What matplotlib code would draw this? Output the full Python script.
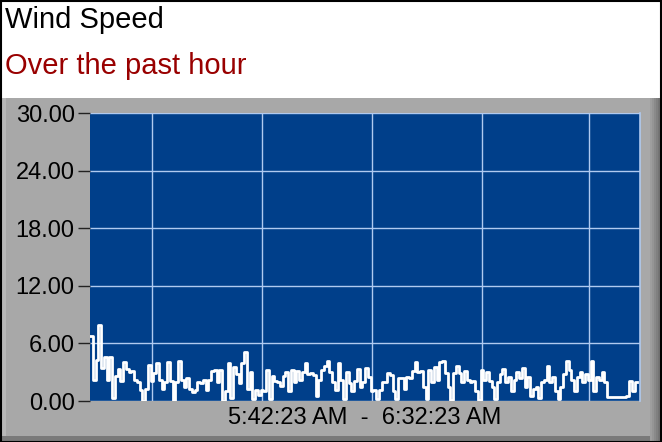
import matplotlib
matplotlib.use("Agg")
import matplotlib.pyplot as plt
from matplotlib.patches import Rectangle
from matplotlib.ticker import FixedLocator, FormatStrFormatter

title = "Wind Speed"
subtitle = "Over the past hour"
time_range_label = "5:42:23 AM  -  6:32:23 AM"
sample_interval_s = 15
y_ticks = [0, 6, 12, 18, 24, 30]
grid_x_seconds = [337, 937, 1537, 2137, 2720]

wind_speed = [
    6.8, 2.2, 4.3, 7.9, 3.4, 4.6, 2.2, 4.6, 0.3, 2.6,
    3.3, 2.1, 4.1, 3.3, 3.0, 3.1, 2.2, 2.0, 1.1, 0.0,
    1.3, 3.8, 2.1, 2.9, 4.0, 2.2, 1.2, 2.0, 4.1, 2.1,
    0.0, 2.0, 4.2, 2.2, 1.5, 2.4, 1.2, 0.9, 1.1, 2.0,
    1.9, 2.2, 1.1, 2.2, 3.1, 3.2, 2.0, 3.2, 0.0, 1.0,
    4.0, 0.3, 3.5, 2.8, 1.9, 4.0, 5.1, 1.2, 3.0, 0.2,
    1.1, 0.6, 1.1, 1.0, 3.2, 0.2, 2.6, 2.1, 2.0, 1.6,
    2.6, 3.0, 1.0, 3.2, 2.0, 3.1, 2.2, 3.0, 4.0, 2.8,
    2.9, 2.7, 0.5, 2.2, 3.2, 3.6, 4.2, 3.0, 2.0, 1.1,
    4.0, 2.2, 0.2, 3.0, 1.9, 1.0, 2.1, 3.3, 1.5, 2.0,
    3.4, 2.5, 1.0, 1.1, 0.2, 1.1, 2.0, 2.0, 2.9, 2.7,
    1.0, 0.2, 2.4, 2.4, 1.2, 2.5, 2.4, 3.1, 4.1, 3.0,
    3.1, 1.5, 0.2, 3.2, 2.0, 3.5, 2.2, 4.1, 4.2, 2.9,
    1.5, 0.1, 2.9, 3.6, 2.9, 2.0, 3.1, 2.2, 2.0, 2.1,
    1.0, 0.1, 3.2, 2.2, 3.0, 2.1, 1.5, 0.2, 2.0, 2.8,
    3.3, 2.0, 2.5, 1.0, 2.2, 3.0, 2.4, 3.4, 1.5, 2.5,
    0.5, 1.2, 1.5, 0.3, 2.0, 2.2, 3.6, 2.0, 2.5, 1.0,
    0.2, 1.5, 2.8, 4.2, 3.2, 2.2, 1.0, 2.5, 3.0, 2.0,
    2.8, 2.2, 4.2, 1.0, 2.5, 2.2, 3.0, 2.0, 0.4, 0.4,
    0.4, 0.4, 0.4, 0.4, 0.4, 0.5, 2.1, 1.0, 2.0, 2.0,
]
times = [i * sample_interval_s for i in range(len(wind_speed))]

W, H = 662, 442
plt.rcParams['font.family'] = ['Liberation Sans', 'DejaVu Sans']
fig = plt.figure(figsize=(W / 100, H / 100), dpi=100, facecolor="white")


def rect(x0, y0, x1, y1, color, z=0):
    r = Rectangle((x0 / W, 1 - y1 / H), (x1 - x0) / W, (y1 - y0) / H,
                  transform=fig.transFigure, facecolor=color, edgecolor="none",
                  zorder=z)
    fig.add_artist(r)


# gray panel with bevel
rect(0, 98, W, H, "#A8A8A8", -10)
rect(0, 98, 6, H, "#B8B8B8", -9)
rect(0, 436, W, H, "#7A7A7A", -9)
for k, c in enumerate(["#9E9E9E", "#959595", "#8A8A8A", "#808080", "#757575", "#6A6A6A"]):
    rect(650 + k * 2, 98, 652 + k * 2, H, c, -9)
fig.add_artist(Rectangle((0.5 / W, 0.5 / H), 1 - 1.5 / W, 1 - 1.5 / H,
                         transform=fig.transFigure, facecolor="none",
                         edgecolor="black", linewidth=1.5, zorder=5))

fig.text(5 / W, 1 - 28.5 / H, title, fontsize=21, color="black",
         ha="left", va="baseline")
fig.text(5 / W, 1 - 73.5 / H, subtitle, fontsize=21, color="#990000",
         ha="left", va="baseline")

ax = fig.add_axes([90 / W, 1 - 401 / H, 550 / W, 288 / H])
ax.set_facecolor("#003F8A")
ax.step(times, wind_speed, where="post", color="white", linewidth=2.0, zorder=3)
ax.set_xlim(0, 3000)
ax.set_ylim(0, 30)
ax.yaxis.set_major_locator(FixedLocator(y_ticks))
ax.yaxis.set_major_formatter(FormatStrFormatter("%.2f"))
ax.xaxis.set_major_locator(FixedLocator(grid_x_seconds))
ax.set_xticklabels([])
ax.tick_params(axis="x", length=0)
ax.tick_params(axis="y", length=9, width=1, color="#222222", labelsize=17,
               pad=2, direction="out")
ax.grid(True, color="#B0CAF0", linewidth=1, zorder=1)
for s in ["top", "left", "bottom"]:
    ax.spines[s].set_visible(False)
ax.spines["right"].set_color("#B0CAF0")
ax.spines["right"].set_linewidth(1.2)
ax.set_axisbelow(True)

fig.text(365 / W, 1 - 418 / H, time_range_label, fontsize=17, color="black",
         ha="center", va="center")

fig.savefig("out.png", dpi=100, facecolor=fig.get_facecolor())
